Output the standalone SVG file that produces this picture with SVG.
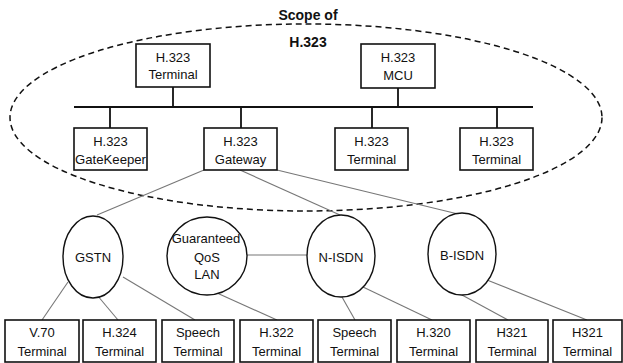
<svg xmlns="http://www.w3.org/2000/svg" width="623" height="363" viewBox="0 0 623 363">
<style>
.bg{fill:#fff}
.box{fill:#fff;stroke:#111;stroke-width:1.6}
.oval{fill:#fff;stroke:#111;stroke-width:1.4}
.t{font-family:"Liberation Sans",Arial,sans-serif;font-size:13px;fill:#111;text-anchor:middle}
.title{font-family:"Liberation Sans",Arial,sans-serif;font-size:14px;font-weight:bold;fill:#111;text-anchor:middle}
.scope{fill:none;stroke:#111;stroke-width:1.5;stroke-dasharray:6 4}
.bus{stroke:#111;stroke-width:2.2;fill:none}
.stem{stroke:#111;stroke-width:1.8;fill:none}
.link{stroke:#777;stroke-width:1.1;fill:none}
</style>
<rect class="bg" x="0" y="0" width="623" height="363"/>
<g id="scope">
<ellipse class="scope" cx="306" cy="117.5" rx="296" ry="93.5"/>
<text class="title" x="308" y="20">Scope of</text>
<text class="title" x="308" y="47">H.323</text>
</g>
<g id="connectors">
<line class="bus" x1="74" y1="107" x2="533" y2="107"/>
<line class="stem" x1="173" y1="87" x2="173" y2="107"/>
<line class="stem" x1="398" y1="88" x2="398" y2="107"/>
<line class="stem" x1="110" y1="107" x2="110" y2="128"/>
<line class="stem" x1="241" y1="107" x2="241" y2="128"/>
<line class="stem" x1="372" y1="107" x2="372" y2="128"/>
<line class="stem" x1="497" y1="107" x2="497" y2="128"/>
<line class="link" x1="204" y1="170" x2="97" y2="215"/>
<line class="link" x1="240" y1="170" x2="340" y2="215"/>
<line class="link" x1="277" y1="170" x2="458" y2="214"/>
<line class="link" x1="68" y1="282" x2="42" y2="320"/>
<line class="link" x1="97" y1="295" x2="118" y2="320"/>
<line class="link" x1="123" y1="277" x2="195" y2="320"/>
<line class="link" x1="217" y1="293" x2="277" y2="320"/>
<line class="link" x1="247" y1="255" x2="307" y2="255"/>
<line class="link" x1="342" y1="297" x2="355" y2="320"/>
<line class="link" x1="363" y1="287" x2="432" y2="320"/>
<line class="link" x1="462" y1="295" x2="508" y2="320"/>
<line class="link" x1="487" y1="280" x2="587" y2="320"/>
</g>
<g id="terminal1"><rect class="box" x="136" y="44" width="74" height="43"/><text class="t" x="173" y="62">H.323</text><text class="t" x="173" y="79">Terminal</text></g>
<g id="mcu"><rect class="box" x="361" y="44" width="74" height="44"/><text class="t" x="398" y="62">H.323</text><text class="t" x="398" y="80">MCU</text></g>
<g id="gatekeeper"><rect class="box" x="74" y="128" width="73" height="42"/><text class="t" x="110.5" y="146">H.323</text><text class="t" x="110.5" y="164" textLength="71" lengthAdjust="spacingAndGlyphs">GateKeeper</text></g>
<g id="gateway"><rect class="box" x="204" y="128" width="73" height="42"/><text class="t" x="240.5" y="146">H.323</text><text class="t" x="240.5" y="164">Gateway</text></g>
<g id="terminal2"><rect class="box" x="335" y="128" width="73" height="42"/><text class="t" x="371.5" y="146">H.323</text><text class="t" x="371.5" y="164">Terminal</text></g>
<g id="terminal3"><rect class="box" x="460" y="128" width="73" height="42"/><text class="t" x="496.5" y="146">H.323</text><text class="t" x="496.5" y="164">Terminal</text></g>
<g id="gstn"><ellipse class="oval" cx="93" cy="257" rx="30" ry="41"/><text class="t" x="93" y="262">GSTN</text></g>
<g id="qoslan"><ellipse class="oval" cx="207" cy="256" rx="40" ry="39"/><text class="t" x="206" y="243">Guaranteed</text><text class="t" x="207" y="262">QoS</text><text class="t" x="207" y="279">LAN</text></g>
<g id="nisdn"><ellipse class="oval" cx="341" cy="256" rx="34" ry="41"/><text class="t" x="341" y="262">N-ISDN</text></g>
<g id="bisdn"><ellipse class="oval" cx="462" cy="254" rx="34" ry="41"/><text class="t" x="462" y="260">B-ISDN</text></g>
<g id="v70"><rect class="box" x="5" y="320" width="74" height="42"/><text class="t" x="42" y="337">V.70</text><text class="t" x="42" y="356">Terminal</text></g>
<g id="h324"><rect class="box" x="83" y="320" width="73" height="42"/><text class="t" x="119.5" y="337">H.324</text><text class="t" x="119.5" y="356">Terminal</text></g>
<g id="speech1"><rect class="box" x="162" y="320" width="72" height="42"/><text class="t" x="198" y="337">Speech</text><text class="t" x="198" y="356">Terminal</text></g>
<g id="h322"><rect class="box" x="240" y="320" width="73" height="42"/><text class="t" x="276.5" y="337">H.322</text><text class="t" x="276.5" y="356">Terminal</text></g>
<g id="speech2"><rect class="box" x="318" y="320" width="73" height="42"/><text class="t" x="354.5" y="337">Speech</text><text class="t" x="354.5" y="356">Terminal</text></g>
<g id="h320"><rect class="box" x="397" y="320" width="73" height="42"/><text class="t" x="433.5" y="337">H.320</text><text class="t" x="433.5" y="356">Terminal</text></g>
<g id="h321a"><rect class="box" x="476" y="320" width="72" height="42"/><text class="t" x="512" y="337">H321</text><text class="t" x="512" y="356">Terminal</text></g>
<g id="h321b"><rect class="box" x="553" y="320" width="69" height="42"/><text class="t" x="587.5" y="337">H321</text><text class="t" x="587.5" y="356">Terminal</text></g>
</svg>
